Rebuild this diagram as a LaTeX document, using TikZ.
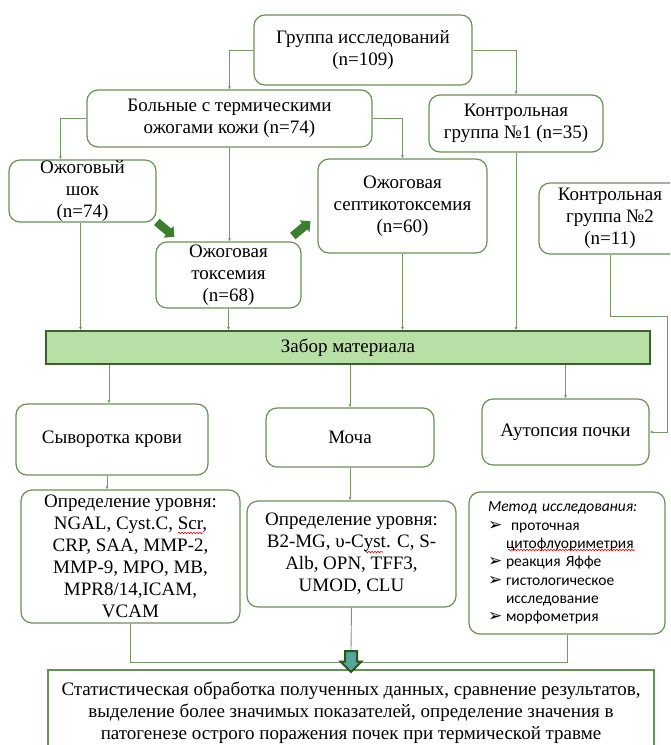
\documentclass[tikz,border=0pt]{standalone}
\usepackage{fontspec}
\setmainfont{Liberation Serif}
\newfontfamily\calib{Carlito}
\newfontfamily\symb{DejaVu Sans}
\usetikzlibrary{shapes.arrows,arrows.meta,decorations.pathmorphing}
\definecolor{boxgreen}{RGB}{104,145,88}
\definecolor{linegreen}{RGB}{118,152,105}
\definecolor{barfill}{RGB}{183,223,166}
\definecolor{bardraw}{RGB}{58,98,44}
\definecolor{arrgreen}{RGB}{62,125,48}
\definecolor{darkarr}{RGB}{38,88,30}
\definecolor{arrteal}{RGB}{84,166,156}
\newcommand\bul{\makebox[18pt][l]{\symb\fontsize{17}{16}\selectfont ➢}}
\newcommand\ind{\hspace*{18pt}}
\begin{document}
\begin{tikzpicture}[x=1pt,y=-1pt,
    box/.style={draw=boxgreen,line width=1.2pt,rounded corners=11pt,align=center,
        inner sep=0pt,font=\fontsize{19}{22}\selectfont},
    conn/.style={draw=linegreen,line width=0.9pt,-{Latex[length=3pt,width=3pt]}},
    link/.style={draw=linegreen,line width=0.9pt},
    spell/.style={draw=red,line width=0.6pt,decorate,
        decoration={snake,amplitude=0.8pt,segment length=3pt}},
    greenarrow/.style={single arrow,fill=arrgreen,inner xsep=0pt,inner ysep=4pt,
        minimum height=23pt,minimum width=15pt,single arrow head extend=3.5pt}]
    \clip (0,0) rectangle (670,745);
    % groups
    \node[box,minimum width=218pt,minimum height=70pt] (grp) at (363,50) {Группа исследований\\(n=109)};
    \node[box,minimum width=285pt,minimum height=57pt] (bol) at (229.5,118.5) {Больные с термическими\\ожогами кожи (n=74)};
    \node[box,minimum width=174pt,minimum height=57pt] (k1) at (516,123.5) {Контрольная\\группа №1 (n=35)};
    \node[box,minimum width=147pt,minimum height=62pt] (shok) at (82.5,191) {Ожоговый\\шок\\(n=74)};
    \node[box,minimum width=145pt,minimum height=66pt] (tox) at (228.5,275) {Ожоговая\\токсемия\\(n=68)};
    \node[box,minimum width=169pt,minimum height=94pt] (sept) at (402.5,206) {Ожоговая\\септикотоксемия\\(n=60)};
    \node[box,minimum width=142pt,minimum height=71pt] (k2) at (610,218.5) {Контрольная\\группа №2\\(n=11)};
    \node[greenarrow,rotate=-40] (arra) at (164,228) {};
    \node[greenarrow,rotate=40] (arrb) at (300,230) {};
    % material
    \node[box,rounded corners=0pt,draw=bardraw,line width=1.6pt,fill=barfill,
        minimum width=604pt,minimum height=33pt] (bar) at (348,347.5) {Забор материала};
    \node[box,minimum width=192pt,minimum height=71pt] (syv) at (112,439.5) {Сыворотка крови};
    \node[box,minimum width=168pt,minimum height=59pt] (moch) at (350,437.5) {Моча};
    \node[box,minimum width=167pt,minimum height=66pt] (aut) at (565.5,432) {Аутопсия почки};
    \node[box,minimum width=219pt,minimum height=133pt] (opr1) at (130.5,556.5)
        {Определение уровня:\\NGAL, Cyst.C, Scr,\\CRP, SAA, MMP-2,\\MMP-9, MPO, MB,\\MPR8/14,ICAM,\\VCAM};
    \node[box,minimum width=209pt,minimum height=106pt] (opr2) at (351.5,554)
        {Определение уровня:\\B2-MG, υ-Cyst. C, S-\\Alb, OPN, TFF3,\\UMOD, CLU};
    \node[box,minimum width=196pt,minimum height=142pt,align=left,text width=158pt,
        font=\calib\fontsize{15.5}{18.3}\selectfont] (met) at (567,563)
        {\textit{Метод исследования:}\\\bul\ проточная\\\ind цитофлуориметрия\\\bul реакция Яффе\\
         \bul гистологическое\\\ind исследование\\\bul морфометрия};
    \node[box,rounded corners=0pt,minimum width=606pt,minimum height=85pt] (fin) at (351,712.5)
        {Статистическая обработка полученных данных, сравнение результатов,\\выделение более значимых показателей, определение значения в\\патогенезе острого поражения почек при термической травме};
    % spelling marks
    \draw[spell] (178,533) -- (203,533);
    \draw[spell] (365,552) -- (383,552);
    \draw[spell] (508,550) -- (635,550);
    % connectors
    \draw[conn] (grp.west) -| (bol.north);
    \draw[conn] (grp.east) -| (k1.north);
    \draw[conn] (bol.west) -| ([xshift=52pt]shok.north west);
    \draw[conn] (bol.east) -| (sept.north);
    \draw[conn] (bol.south) -- (bol.south |- tox.north);
    \draw[conn] ([xshift=-2pt]shok.south) -- ([xshift=-2pt]shok.south |- bar.north);
    \draw[conn] (tox.south) -- (tox.south |- bar.north);
    \draw[conn] (sept.south) -- (sept.south |- bar.north);
    \draw[conn] (k1.south) -- (k1.south |- bar.north);
    \draw[conn] (k2.south) -- ++(0,62) -| ([xshift=18pt]aut.east) -- (aut.east);
    \draw[conn] ([xshift=-3pt]bar.south -| syv.north) -- ([xshift=-3pt]syv.north);
    \draw[conn] (bar.south -| moch.north) -- (moch.north);
    \draw[conn] (bar.south -| aut.north) -- (aut.north);
    \draw[conn] ([xshift=-5pt]syv.south) -- ([xshift=-5pt]syv.south |- opr1.north);
    \draw[conn] (moch.south) -- (moch.south |- opr2.north);
    \draw[link] (opr1.south) -- ++(0,39) -| (met.south);
    \node[single arrow,rotate=-90,draw=darkarr,fill=arrteal,line width=2pt,inner xsep=0pt,
        inner ysep=5pt,minimum height=21pt,minimum width=20pt,single arrow head extend=4.5pt]
        (bigarr) at (351,658.5) {};
    \draw[link] (opr2.south) -- (bigarr.tail);
\end{tikzpicture}
\end{document}
